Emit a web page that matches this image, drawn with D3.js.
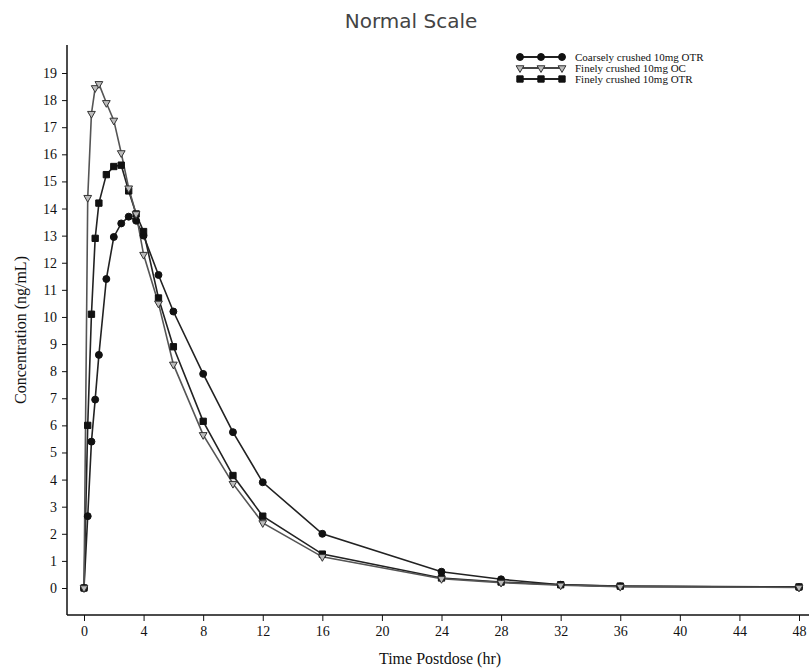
<!DOCTYPE html>
<html>
<head>
<meta charset="utf-8">
<script src="https://cdn.jsdelivr.net/npm/d3@7"></script>
<style>
  body { margin: 0; background: #fff; }
  svg { display: block; }
  .tick text { font-family: "Liberation Serif", "DejaVu Serif", serif; font-size: 14px; fill: #111; }
  .tick line { stroke: #111; }
</style>
</head>
<body>
<div id="chart"></div>
<script>
var times = [0, 0.25, 0.5, 0.75, 1, 1.5, 2, 2.5, 3, 3.5, 4, 5, 6, 8, 10, 12, 16, 24, 28, 32, 36, 48];

// coarsely crushed 10mg OTR
var coarseOTR = [0, 2.65, 5.4, 6.95, 8.6, 11.4, 12.95, 13.45, 13.7, 13.55, 13.0, 11.55, 10.2, 7.9, 5.75, 3.9, 2.0, 0.6, 0.32, 0.12, 0.06, 0.03];
// finely crushed 10mg OC
var fineOC = [0, 14.4, 17.5, 18.45, 18.6, 17.9, 17.25, 16.05, 14.75, 13.8, 12.3, 10.5, 8.25, 5.65, 3.85, 2.4, 1.15, 0.34, 0.2, 0.1, 0.05, 0.02];
// finely crushed 10mg OTR
var fineOTR = [0, 6.0, 10.1, 12.9, 14.2, 15.25, 15.55, 15.6, 14.65, 13.8, 13.15, 10.7, 8.9, 6.15, 4.15, 2.65, 1.25, 0.37, 0.22, 0.12, 0.07, 0.04];

var seriesNames = ["Coarsely crushed 10mg OTR", "Finely crushed 10mg OC", "Finely crushed 10mg OTR"];
var xTicks = [0, 4, 8, 12, 16, 20, 24, 28, 32, 36, 40, 44, 48];
var yTicks = d3.range(0, 20);

var width = 809, height = 671;
var svg = d3.select("#chart").append("svg")
  .attr("width", width)
  .attr("height", height);

var x = d3.scaleLinear().domain([0, 48]).range([84, 799]);
var y = d3.scaleLinear().domain([0, 19]).range([588, 73]);

var axisX = 67, axisY = 615;

// title
svg.append("text")
  .attr("x", 411)
  .attr("y", 28)
  .attr("text-anchor", "middle")
  .style("font-family", "'DejaVu Sans', Verdana, sans-serif")
  .style("font-size", "20px")
  .style("fill", "#444")
  .text("Normal Scale");

// axes
var yAxis = svg.append("g")
  .attr("transform", "translate(" + axisX + ",0)")
  .call(d3.axisLeft(y).tickValues(yTicks).tickSize(5).tickPadding(5).tickSizeOuter(0));
yAxis.select(".domain").remove();

var xAxis = svg.append("g")
  .attr("transform", "translate(0," + axisY + ")")
  .call(d3.axisBottom(x).tickValues(xTicks).tickSize(6).tickPadding(5).tickSizeOuter(0));
xAxis.select(".domain").remove();

svg.append("line")
  .attr("x1", axisX).attr("x2", axisX)
  .attr("y1", 45).attr("y2", axisY)
  .style("stroke", "#111").style("stroke-width", 1.5);
svg.append("line")
  .attr("x1", axisX).attr("x2", 809)
  .attr("y1", axisY).attr("y2", axisY)
  .style("stroke", "#111").style("stroke-width", 1.5);

// axis labels
svg.append("text")
  .attr("x", 440)
  .attr("y", 664)
  .attr("text-anchor", "middle")
  .style("font-family", "'Liberation Serif', serif")
  .style("font-size", "16px")
  .style("fill", "#111")
  .text("Time Postdose (hr)");

svg.append("text")
  .attr("transform", "translate(26,330) rotate(-90)")
  .attr("text-anchor", "middle")
  .style("font-family", "'Liberation Serif', serif")
  .style("font-size", "16px")
  .style("fill", "#111")
  .text("Concentration (ng/mL)");

var line = d3.line()
  .x(function(d){ return x(d.t); })
  .y(function(d){ return y(d.v); });

function toPoints(vals){
  return vals.map(function(v, i){ return {t: times[i], v: v}; });
}

var circleSym = d3.symbol().type(d3.symbolCircle).size(38);
var squareSym = d3.symbol().type(d3.symbolSquare).size(40);
var triSym = d3.symbol().type(d3.symbolTriangle).size(26);

var series = [
  {name: seriesNames[0], pts: toPoints(coarseOTR), sym: circleSym, lineColor: "#222", fill: "#111", stroke: "#111", rot: 0},
  {name: seriesNames[2], pts: toPoints(fineOTR), sym: squareSym, lineColor: "#222", fill: "#111", stroke: "#111", rot: 0},
  {name: seriesNames[1], pts: toPoints(fineOC), sym: triSym, lineColor: "#555", fill: "#bbb", stroke: "#333", rot: 180}
];

series.forEach(function(s){
  svg.append("path")
    .datum(s.pts)
    .attr("d", line)
    .style("fill", "none")
    .style("stroke", s.lineColor)
    .style("stroke-width", 1.6);
});

series.forEach(function(s){
  svg.selectAll(null)
    .data(s.pts)
    .enter().append("path")
    .attr("d", s.sym)
    .attr("transform", function(d){ return "translate(" + x(d.t) + "," + y(d.v) + ") rotate(" + s.rot + ")"; })
    .style("fill", s.fill)
    .style("stroke", s.stroke)
    .style("stroke-width", 1);
});

// legend
var legendRows = [
  {name: seriesNames[0], sym: circleSym, fill: "#111", stroke: "#111", lineColor: "#222", rot: 0},
  {name: seriesNames[1], sym: triSym, fill: "#bbb", stroke: "#333", lineColor: "#444", rot: 180},
  {name: seriesNames[2], sym: squareSym, fill: "#111", stroke: "#111", lineColor: "#222", rot: 0}
];
var legendY = [57, 68, 79];
var legendMarks = [520, 541, 562];

legendRows.forEach(function(r, i){
  var g = svg.append("g").attr("transform", "translate(0," + legendY[i] + ")");
  g.append("line")
    .attr("x1", legendMarks[0]).attr("x2", legendMarks[2])
    .attr("y1", 0).attr("y2", 0)
    .style("stroke", r.lineColor).style("stroke-width", 1.8);
  legendMarks.forEach(function(mx){
    g.append("path")
      .attr("d", r.sym)
      .attr("transform", "translate(" + mx + ",0) rotate(" + r.rot + ")")
      .style("fill", r.fill)
      .style("stroke", r.stroke);
  });
  g.append("text")
    .attr("x", 575)
    .attr("y", 3.5)
    .style("font-family", "'Liberation Serif', serif")
    .style("font-size", "11px")
    .style("fill", "#111")
    .text(r.name);
});
</script>
</body>
</html>
